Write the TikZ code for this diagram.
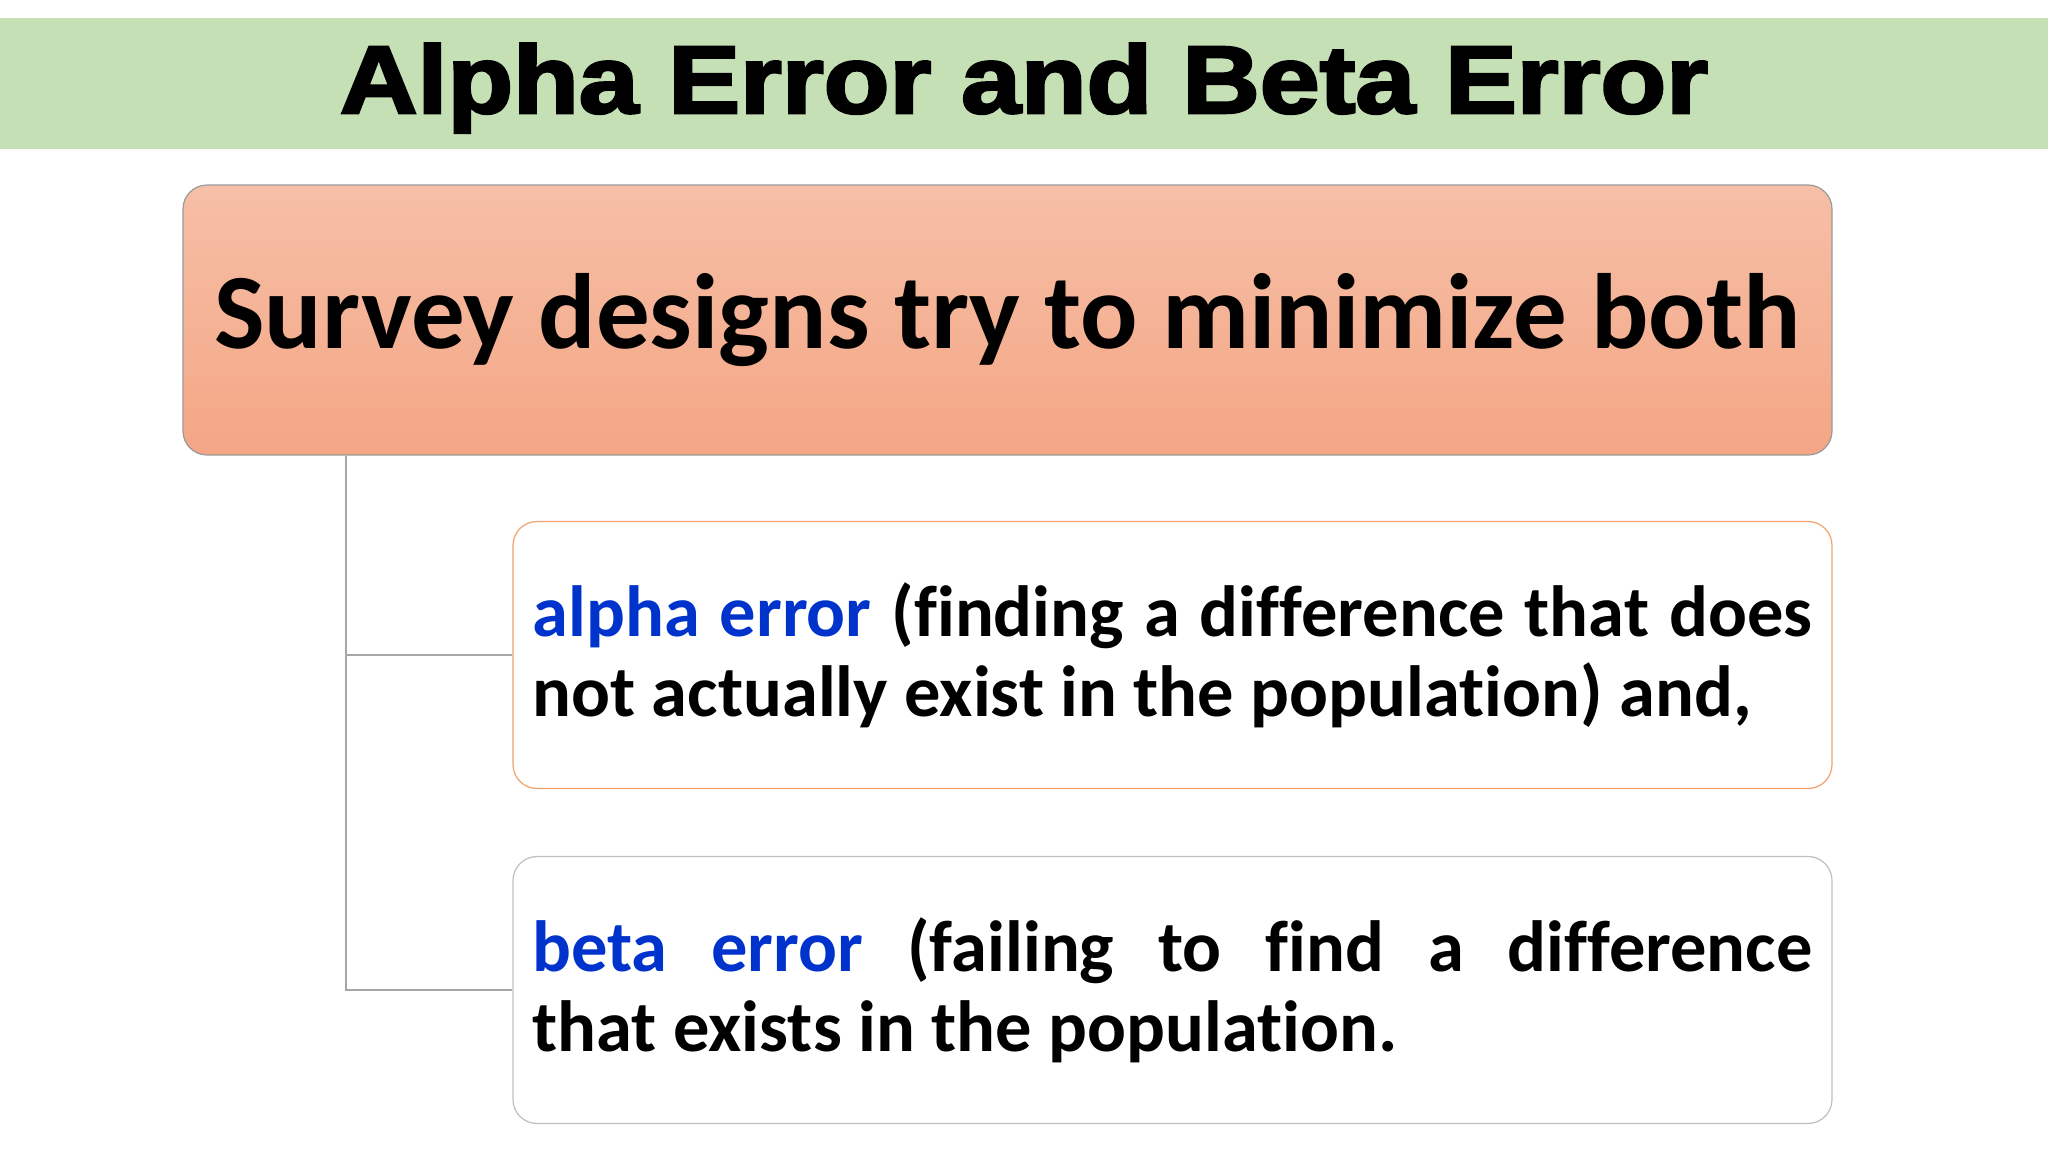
\documentclass[tikz,border=0pt]{standalone}
\usepackage{fontspec}
\setmainfont{Carlito}[Ligatures={NoCommon,NoRare,NoDiscretionary,NoContextual}]
\newfontfamily\titlefont[BoldFeatures={FakeBold=2.6}]{Liberation Sans}
\usetikzlibrary{calc}
\definecolor{titlegreen}{HTML}{C5E0B4}
\definecolor{boxtop}{HTML}{F6BFA7}
\definecolor{boxbot}{HTML}{F4A685}
\definecolor{boxline}{HTML}{9A9A9A}
\definecolor{alphaline}{HTML}{F2A26E}
\definecolor{betaline}{HTML}{BFBFBF}
\definecolor{termblue}{HTML}{0033CC}
\definecolor{connline}{HTML}{A6A6A6}
\begin{document}
\begin{tikzpicture}[x=1pt,y=-1pt,
  titlebar/.style={fill=titlegreen, draw=none, minimum width=2048pt, minimum height=131pt, inner sep=0pt},
  mainbox/.style={draw=boxline, line width=1.2pt, rounded corners=24pt, top color=boxtop, bottom color=boxbot,
    minimum width=1649pt, minimum height=270pt, inner sep=0pt,
    font=\fontsize{107}{120}\selectfont\bfseries},
  itembox/.style={fill=white, line width=1.2pt, rounded corners=24pt, minimum width=1319pt, minimum height=267pt,
    text width=1280pt, align=justify, inner sep=0pt, font=\fontsize{72.5}{80}\selectfont\bfseries},
  conn/.style={draw=connline, line width=2pt}]
\useasboundingbox[fill=white] (0,0) rectangle (2048,1152);
\node[titlebar] (bar) at (1024,83.5) {};
\node[anchor=base, inner sep=0pt] (title) at (1024,113)
  {\scalebox{1.12}[1]{\titlefont\bfseries\fontsize{96}{100}\selectfont Alpha Error and Beta Error}};
\node[mainbox] (main) at (1007.5,320) {Survey designs try to minimize both};
\node[itembox, draw=alphaline] (alpha) at (1172.5,655)
  {\textcolor{termblue}{alpha error} (finding a difference that does\linebreak not actually exist in the population) and,};
\node[itembox, draw=betaline] (beta) at (1172.5,990)
  {\textcolor{termblue}{beta error} (failing to find a difference\linebreak that exists in the population.};
\coordinate (trunk) at ($(main.south west)+(164,0)$);
\draw[conn] (trunk) |- (alpha.west);
\draw[conn] (trunk) |- (beta.west);
\end{tikzpicture}
\end{document}
